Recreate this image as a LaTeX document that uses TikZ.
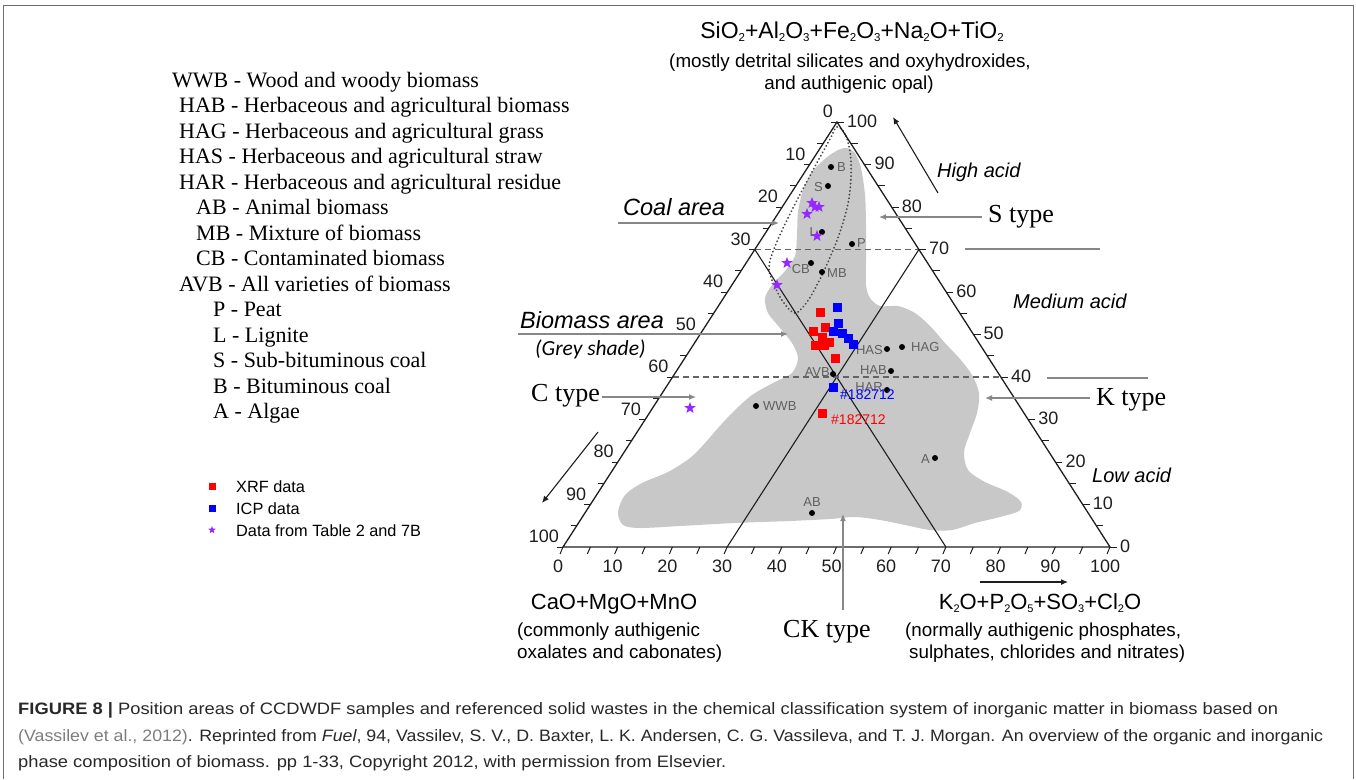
\documentclass[tikz,border=0pt]{standalone}
\usepackage{fontspec}
\usepackage{graphicx}
\setmainfont{Liberation Serif}
\setsansfont{Liberation Sans}
\newfontfamily\greyfont{Carlito}
\usetikzlibrary{calc,arrows.meta,shapes.geometric}
\definecolor{areagray}{RGB}{200,200,200}
\definecolor{linegray}{RGB}{135,135,135}
\definecolor{axisc}{RGB}{30,30,30}
\definecolor{dashc}{RGB}{100,100,100}
\definecolor{dotc}{RGB}{70,70,70}
\definecolor{starc}{RGB}{150,40,255}
\definecolor{lblgray}{RGB}{95,95,95}
\definecolor{capc}{RGB}{40,40,40}
\definecolor{linkc}{RGB}{125,125,125}
\definecolor{framec}{RGB}{110,110,110}
\newcommand\fsz[1]{\fontsize{#1}{#1}\selectfont}
\newcommand\sbs[1]{\raisebox{-3pt}{\fsz{11}#1}}
\newcommand\sbt[1]{\raisebox{-3.2pt}{\fsz{11.5}#1}}
\newcommand\capone{\textbf{FIGURE 8 |} Position areas of CCDWDF samples and referenced solid wastes in the chemical classification system of inorganic matter in biomass based on}
\newsavebox\capboxA
\newlength\capw
\tikzset{
  axis/.style={draw=axisc, line width=1.3pt},
  tickl/.style={draw=axisc, line width=1pt},
  ticklbl/.style={font=\sffamily\fsz{18}, text=axisc, inner sep=0pt},
  innerline/.style={draw=axisc, line width=1.1pt},
  dashline/.style={draw=dashc, line width=1.2pt, dash pattern=on 6pt off 4pt},
  guide/.style={draw=linegray, line width=1.3pt},
  guidearrow/.style={draw=linegray, line width=1.3pt, -{Latex[length=7pt,width=6pt]}},
  darkarrow/.style={draw=axisc, line width=1.1pt, -{Latex[length=7pt,width=6pt]}},
  sample/.style={circle, fill=black, inner sep=0pt, minimum size=6pt},
  samplelbl/.style={font=\sffamily\fsz{13}, text=lblgray, inner sep=0pt},
  xrf/.style={rectangle, fill=red, inner sep=0pt, minimum size=9pt},
  icp/.style={rectangle, fill=blue, inner sep=0pt, minimum size=9pt},
  starmark/.style={star, star points=5, star point ratio=2.4, fill=starc, inner sep=0pt, minimum size=12pt},
  legtext/.style={font=\fsz{22}, anchor=base west, inner sep=0pt},
  typelbl/.style={font=\fsz{26}, anchor=base west, inner sep=0pt},
  acidlbl/.style={font=\sffamily\itshape\fsz{20}, anchor=base west, inner sep=0pt},
  arealbl/.style={font=\sffamily\itshape\fsz{23.5}, anchor=base west, inner sep=0pt},
  formula/.style={font=\sffamily\fsz{22}, anchor=base, inner sep=0pt},
  desc/.style={font=\sffamily\fsz{18.8}, inner sep=0pt},
  smallleg/.style={font=\sffamily\fsz{16.3}, anchor=base west, inner sep=0pt},
  captxt/.style={font=\sffamily\fsz{16.5}, text=capc, anchor=base west, inner sep=0pt},
}
\begin{document}
\sbox\capboxA{\sffamily\fsz{16.5}\capone}%
\setlength\capw{\wd\capboxA}%
\pgfmathsetmacro\capscale{1260/\capw}%
\begin{tikzpicture}[x=1pt, y=-1pt]
\useasboundingbox (0,0) rectangle (1356,779);
\coordinate (fr1) at (3,779); \coordinate (fr2) at (3,5);
\coordinate (fr3) at (1353,5); \coordinate (fr4) at (1353,779);
\draw[framec, line width=1pt] (fr1) -- (fr2) -- (fr3) -- (fr4);

% vertices
\coordinate (T) at (837,122);
\coordinate (L) at (563,547);
\coordinate (R) at (1110,547);

% grey biomass area
\fill[areagray] plot[smooth cycle, tension=0.5] coordinates {
 (847,148) (855,153) (861,168) (865,195) (866,225) (866,260) (866,285) (870,298) (880,306) (898,306)
 (915,313) (930,326) (945,343) (960,359) (972,375) (979,393) (977,413) (970,433) (964,452) (968,470)
 (985,482) (1008,492) (1021,502) (1019,511) (1000,517) (975,523) (952,530) (930,530) (905,525) (880,520)
 (855,517) (830,519) (790,521) (735,523) (680,526) (640,528) (623,525) (618,512) (625,495) (642,483)
 (668,472) (690,458) (705,443) (718,428) (733,412) (752,395) (775,382) (792,373) (798,358) (792,343)
 (780,328) (768,313) (765,298) (772,285) (785,271) (795,256) (797,235) (798,212) (803,190) (812,172)
 (826,158) (838,150)};

% coal area dotted outline
\draw[dotc, line width=2pt, dash pattern=on 0.1pt off 3.6pt, line cap=round] plot[smooth cycle, tension=0.6] coordinates {
 (837,127) (846,136) (851,162) (849,198) (840,232) (828,262) (818,283) (807,302) (795,313) (784,303)
 (776,289) (769,268) (776,244) (792,210) (812,172) (830,139)};

% inner coordinates
\coordinate (l30) at ($(T)!0.3!(L)$);
\coordinate (l60) at ($(T)!0.6!(L)$);
\coordinate (r70) at ($(R)!0.7!(T)$);
\coordinate (r40) at ($(R)!0.4!(T)$);
\coordinate (b30) at ($(L)!0.3!(R)$);
\coordinate (b70) at ($(L)!0.7!(R)$);
\draw[innerline] (l30) -- (b70);
\draw[innerline] (r70) -- (b30);
\draw[dashline] (l30) -- (r70);
\draw[dashline] (l60) -- (r40);

% triangle
\draw[axis, line join=miter] (T) -- (L) -- (R) -- cycle;

% ticks
\foreach \k in {0,...,20} {
  \draw[tickl] ($(L)!\k/20!(R)$) -- ++(-3,7);
  \draw[tickl] ($(T)!\k/20!(L)$) -- ++(-6,0);
  \draw[tickl] ($(R)!\k/20!(T)$) -- ++(7,0);
}
\foreach \v in {0,10,...,100} {
  \node[ticklbl] (bl\v) at ($(L)!\v/100!(R)+(-5,19)$) {\v};
  \node[ticklbl, anchor=south east] (ll\v) at ($(T)!\v/100!(L)+(-4,-4)$) {\v};
  \node[ticklbl, anchor=west] (rl\v) at ($(R)!\v/100!(T)+(10,-1)$) {\v};
}

% guide lines and arrows
\coordinate (coalA) at (618,223); \coordinate (coalB) at (779,223);
\draw[guidearrow] (coalA) -- (coalB);
\coordinate (bioA) at (518,334); \coordinate (bioB) at (788,334);
\draw[guidearrow] (bioA) -- (bioB);
\coordinate (cA) at (602,397); \coordinate (cB) at (696,397);
\draw[guidearrow] (cA) -- (cB);
\coordinate (sA) at (982,217); \coordinate (sB) at (879,217);
\draw[guidearrow] (sA) -- (sB);
\coordinate (kA) at (1090,398); \coordinate (kB) at (985,398);
\draw[guidearrow] (kA) -- (kB);
\coordinate (g70A) at (965,249); \coordinate (g70B) at (1100,249);
\draw[guide] (g70A) -- (g70B);
\coordinate (g40A) at (1047,378); \coordinate (g40B) at (1148,378);
\draw[guide] (g40A) -- (g40B);
\coordinate (ckA) at (843,610); \coordinate (ckB) at (843,514);
\draw[guidearrow] (ckA) -- (ckB);
\coordinate (hA) at (938,193); \coordinate (hB) at (893,117);
\draw[darkarrow] (hA) -- (hB);
\coordinate (caA) at (598,432); \coordinate (caB) at (542,503);
\draw[darkarrow] (caA) -- (caB);
\coordinate (kpA) at (980,582); \coordinate (kpB) at (1068,582);
\draw[darkarrow] (kpA) -- (kpB);

% sample points
\foreach \n/\x/\y in {B/831/167, S/828/186, L/822/232, P/852/244, CB/811/263, MB/822/272,
  AVB/833/374, HAS/887/349, HAB/891/371, HAR/887/390, WWB/756/406, HAG/902/347, A/935/458, AB/812/513} {
  \node[sample] (d\n) at (\x,\y) {};
}
\node[samplelbl, anchor=west] (tB) at (837,167) {B};
\node[samplelbl, anchor=east] (tS) at (823,187) {S};
\node[samplelbl, anchor=east] (tL) at (817,232) {L};
\node[samplelbl, anchor=west] (tP) at (857,243) {P};
\node[samplelbl, anchor=north east] (tCB) at (810,264) {CB};
\node[samplelbl, anchor=west] (tMB) at (827,273) {MB};
\node[samplelbl, anchor=south east] (tAVB) at (830,377) {AVB};
\node[samplelbl, anchor=east] (tHAS) at (883,350) {HAS};
\node[samplelbl, anchor=east] (tHAB) at (887,370) {HAB};
\node[samplelbl, anchor=east] (tHAR) at (883,387) {HAR};
\node[samplelbl, anchor=west] (tWWB) at (763,406) {WWB};
\node[samplelbl, anchor=west] (tHAG) at (911,347) {HAG};
\node[samplelbl, anchor=east] (tA) at (930,459) {A};
\node[samplelbl, anchor=south] (tAB) at (812,507) {AB};

% XRF data
\foreach \i/\x/\y in {1/820/312, 2/813/331, 3/825/327, 4/822/337, 5/829/342, 6/815/345, 7/824/345, 8/835/358, 9/822/413} {
  \node[xrf] (x\i) at (\x,\y) {};
}
% ICP data
\foreach \i/\x/\y in {1/837/307, 2/838/323, 3/833/331, 4/842/333, 5/848/338, 6/853/344, 7/833/387} {
  \node[icp] (c\i) at (\x,\y) {};
}
% stars
\foreach \i/\x/\y in {1/812/203, 2/815/207, 3/819/207, 4/807/214, 5/817/236, 6/787/263, 7/777/285, 8/690/408} {
  \node[starmark] (s\i) at (\x,\y) {};
}
\node[font=\sffamily\fsz{14}, text=blue, anchor=west, inner sep=0pt] (lblblue) at (840,395) {\#182712};
\node[font=\sffamily\fsz{14}, text=red, anchor=west, inner sep=0pt] (lblred) at (831,420) {\#182712};

% area / type labels
\node[arealbl] (coal) at (623,215) {Coal area};
\node[arealbl] (bio) at (520,328) {Biomass area};
\node[font=\greyfont\itshape\fsz{21.5}, anchor=base west, inner sep=0pt] (grey) at (535,355) {(Grey shade)};
\node[typelbl] (ctype) at (531,401) {C type};
\node[typelbl] (stype) at (988,222) {S type};
\node[typelbl] (ktype) at (1096,405) {K type};
\node[typelbl] (cktype) at (783,637) {CK type};
\node[acidlbl] (high) at (937,177) {High acid};
\node[acidlbl] (medium) at (1013,308) {Medium acid};
\node[acidlbl] (low) at (1092,482) {Low acid};

% axis titles
\node[formula, font=\sffamily\fsz{23}] (topf) at (852,38) {SiO\sbt{2}+Al\sbt{2}O\sbt{3}+Fe\sbt{2}O\sbt{3}+Na\sbt{2}O+TiO\sbt{2}};
\node[desc, anchor=base] (topd1) at (850,67) {(mostly detrital silicates and oxyhydroxides,};
\node[desc, anchor=base] (topd2) at (849,89) {and authigenic opal)};
\node[formula] (leftf) at (614,609) {CaO+MgO+MnO};
\node[desc, anchor=base west] (leftd1) at (517,636) {(commonly authigenic};
\node[desc, anchor=base west] (leftd2) at (517,658) {oxalates and cabonates)};
\node[formula] (rightf) at (1040,609) {K\sbs{2}O+P\sbs{2}O\sbs{5}+SO\sbs{3}+Cl\sbs{2}O};
\node[desc, anchor=base west] (rightd1) at (905,636) {(normally authigenic phosphates,};
\node[desc, anchor=base west] (rightd2) at (909,658) {sulphates, chlorides and nitrates)};

% legend of abbreviations
\node[legtext] (g1) at (172,87) {WWB - Wood and woody biomass};
\node[legtext] (g2) at (179,112.5) {HAB - Herbaceous and agricultural biomass};
\node[legtext] (g3) at (179,138) {HAG - Herbaceous and agricultural grass};
\node[legtext] (g4) at (179,163.5) {HAS - Herbaceous and agricultural straw};
\node[legtext] (g5) at (179,189) {HAR - Herbaceous and agricultural residue};
\node[legtext] (g6) at (196,214.5) {AB - Animal biomass};
\node[legtext] (g7) at (196,240) {MB - Mixture of biomass};
\node[legtext] (g8) at (196,265.5) {CB - Contaminated biomass};
\node[legtext] (g9) at (179,291) {AVB - All varieties of biomass};
\node[legtext] (g10) at (213,316.5) {P - Peat};
\node[legtext] (g11) at (213,342) {L - Lignite};
\node[legtext] (g12) at (213,367.5) {S - Sub-bituminous coal};
\node[legtext] (g13) at (213,393) {B - Bituminous coal};
\node[legtext] (g14) at (213,418.5) {A - Algae};

% data legend
\node[xrf, minimum size=7pt] (lx) at (212,486) {};
\node[icp, minimum size=7pt] (li) at (212,508) {};
\node[starmark, minimum size=8pt] (ls) at (212,530) {};
\node[smallleg] (lxt) at (236,492) {XRF data};
\node[smallleg] (lit) at (236,514) {ICP data};
\node[smallleg] (lst) at (236,536) {Data from Table 2 and 7B};

% caption
\node[captxt] (cap1) at (18,714) {\scalebox{\capscale}[1]{\capone}};
\node[captxt] (cap2) at (18,741) {\resizebox{1305pt}{\height}{\textcolor{linkc}{(Vassilev et al., 2012)}. Reprinted from \textit{Fuel}, 94, Vassilev, S. V., D. Baxter, L. K. Andersen, C. G. Vassileva, and T. J. Morgan. An overview of the organic and inorganic}};
\node[captxt] (cap3) at (18,767) {\scalebox{\capscale}[1]{phase composition of biomass. pp 1-33, Copyright 2012, with permission from Elsevier.}};
\end{tikzpicture}
\end{document}
